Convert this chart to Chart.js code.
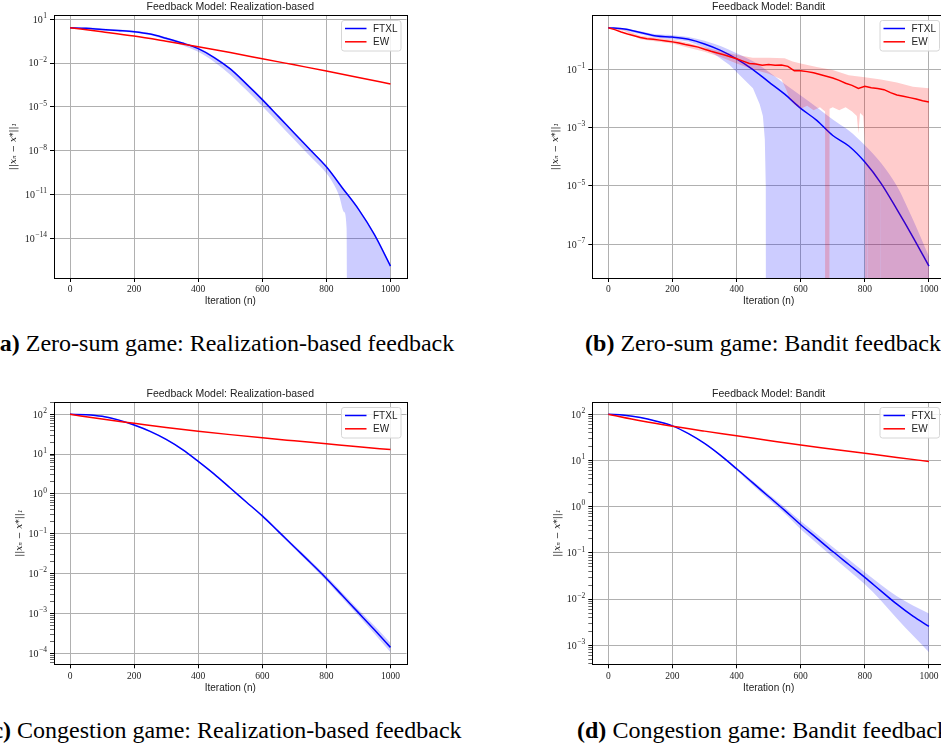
<!DOCTYPE html>
<html>
<head>
<meta charset="utf-8">
<script src="https://cdn.jsdelivr.net/npm/chart.js@4.4.0/dist/chart.umd.min.js"></script>
<style>
  html, body { margin: 0; padding: 0; overflow: hidden; background: #fff; }
  body { position: relative; width: 941px; height: 748px; }
  canvas { position: absolute; }
  .cap { position: absolute; width: 640px; text-align: center; white-space: nowrap;
         font-family: 'Liberation Serif', 'Times New Roman', serif; font-size: 24px; line-height: 24px; color: #000; }
</style>
</head>
<body>
<canvas id="chartA" width="470" height="320" style="left:0;top:0"></canvas>
<canvas id="chartB" width="480" height="320" style="left:470px;top:0"></canvas>
<canvas id="chartC" width="470" height="320" style="left:0;top:387px"></canvas>
<canvas id="chartD" width="480" height="320" style="left:470px;top:387px"></canvas>
<div class="cap" style="left:-97px;top:331px"><b>(a)</b> Zero-sum game: Realization-based feedback</div>
<div class="cap" style="left:443px;top:331px"><b>(b)</b> Zero-sum game: Bandit feedback</div>
<div class="cap" style="left:-97px;top:718px"><b>(c)</b> Congestion game: Realization-based feedback</div>
<div class="cap" style="left:443px;top:718px"><b>(d)</b> Congestion game: Bandit feedback</div>
<script>
'use strict';

// ---- data ----
const seriesNames = ['FTXL', 'EW'];
const xTickValues = [0, 200, 400, 600, 800, 1000];
const panelTitles = ['Feedback Model: Realization-based', 'Feedback Model: Bandit',
    'Feedback Model: Realization-based', 'Feedback Model: Bandit'];

const iters50 = [0, 50, 100, 150, 200, 250, 300, 350, 400, 450, 500, 550, 600, 650, 700, 750, 800, 850, 900, 950, 1000];
const iters100 = [0, 100, 200, 300, 400, 500, 600, 700, 800, 900, 1000];
const iters20 = [0, 20, 40, 60, 80, 100, 120, 140, 160, 180, 200, 220, 240, 260, 280, 300, 320, 340, 360, 380, 400,
    420, 440, 460, 480, 500, 520, 540, 560, 580, 600, 620, 640, 660, 680, 700, 720, 740, 760, 780, 800,
    820, 840, 860, 880, 900, 920, 940, 960, 980, 1000];

// (a) zero-sum, realization-based
const yTickExpA = [1, -2, -5, -8, -11, -14];
const ftxlA = [2.66, 2.40, 2.00, 1.70, 1.41, 0.977, 0.501, 0.240, 0.0977, 0.0240, 3.98e-3, 3.80e-4, 3.16e-5,
    2.24e-6, 1.58e-7, 1.12e-8, 7.94e-10, 2.82e-11, 1.0e-12, 1.78e-14, 1.26e-16];
const ftxlUpA = [2.66, 2.82, 2.34, 2.00, 1.66, 1.15, 0.589, 0.282, 0.115, 0.0282, 4.68e-3, 4.47e-4, 3.72e-5,
    2.63e-6, 1.86e-7, 1.32e-8, 9.33e-10, 3.31e-11, 1.17e-12, 2.09e-14, 1.58e-16];
const ftxlLoItersA = [0, 50, 100, 150, 200, 250, 300, 350, 400, 450, 500, 550, 600, 650, 700, 750, 800, 820, 840,
    855, 863, 866, 1000];
const ftxlLoA = [2.63, 2.04, 1.70, 1.45, 1.20, 0.832, 0.398, 0.170, 0.0589, 0.0120, 1.58e-3, 1.41e-4, 1.12e-5,
    7.94e-7, 5.62e-8, 3.98e-9, 2.82e-10, 6.31e-11, 7.94e-12, 6.31e-13, 5.01e-14, 1e-30, 1e-30];
const ewA = [2.67, 1.41, 0.718, 0.316, 0.133, 0.0525, 0.0200, 7.59e-3, 2.88e-3, 1.05e-3, 3.72e-4];

// (b) zero-sum, bandit
const yTickExpB = [-1, -3, -5, -7];
const ftxlB = [2.67, 2.40, 1.82, 1.38, 1.27, 1.07, 0.741, 0.447, 0.229, 0.100, 0.0372, 0.0141, 4.57e-3,
    1.78e-3, 5.37e-4, 2.34e-4, 6.61e-5, 1.26e-5, 1.58e-6, 1.78e-7, 1.78e-8];
const ftxlUpB = [2.69, 2.57, 2.00, 1.58, 1.48, 1.29, 0.955, 0.631, 0.355, 0.191, 0.0832, 0.0316, 0.0126,
    5.01e-3, 1.91e-3, 7.94e-4, 2.51e-4, 6.31e-5, 1.0e-5, 7.08e-7, 3.80e-8];
const ftxlLoItersB = [0, 50, 100, 150, 200, 250, 300, 340, 378, 410, 451, 472, 482, 488, 491, 493, 1000];
const ftxlLoB = [2.63, 2.19, 1.58, 1.20, 1.07, 0.891, 0.562, 0.282, 0.141, 0.0631, 0.0224, 6.31e-3, 2.51e-3,
    3.98e-4, 1e-5, 1e-30, 1e-30];
const ewB = [2.67, 2.29, 1.91, 1.62, 1.41, 1.23, 1.12, 1.07, 1.00, 0.933, 0.871, 0.794, 0.708, 0.646, 0.575,
    0.490, 0.417, 0.363, 0.316, 0.269, 0.229, 0.191, 0.158, 0.151, 0.138, 0.145, 0.138, 0.141, 0.126, 0.0891,
    0.0891, 0.0832, 0.0759, 0.0661, 0.0575, 0.0501, 0.0417, 0.0331, 0.0282, 0.0219, 0.0263, 0.0234, 0.0219,
    0.0200, 0.0158, 0.0132, 0.0120, 0.0107, 9.55e-3, 8.32e-3, 7.59e-3];
const ewUpItersB = [0, 50, 100, 150, 200, 250, 300, 350, 400, 450, 500, 550, 575, 600, 650, 700, 750, 800, 850, 900, 950, 1000];
const ewUpB = [2.69, 2.29, 1.41, 1.20, 1.05, 0.794, 0.575, 0.417, 0.316, 0.251, 0.251, 0.240, 0.186, 0.158,
    0.120, 0.0955, 0.0631, 0.0537, 0.0447, 0.0355, 0.0251, 0.0224];
const ewLoItersB = [0, 50, 100, 150, 200, 250, 300, 350, 400, 450, 500, 540, 555, 565, 580, 600, 620, 640, 660,
    676, 678, 688, 690, 700, 720, 740, 760, 775, 780, 785, 795, 800, 805, 808, 811, 848, 850, 852, 1000];
const ewLoB = [2.63, 2.04, 1.07, 0.891, 0.759, 0.550, 0.398, 0.263, 0.158, 0.100, 0.0708, 0.0447, 0.0200, 0.0100,
    6.31e-3, 4.47e-3, 5.62e-3, 3.98e-3, 5.01e-3, 3.55e-3, 1e-30, 1e-30, 4.47e-3, 5.01e-3, 3.98e-3, 5.01e-3,
    3.55e-3, 2.51e-3, 6.31e-4, 3.16e-3, 2.51e-3, 3.16e-4, 1e-30, 1e-3, 1e-30, 1e-30, 2.51e-4, 1e-30, 1e-30];

// (c) congestion, realization-based
const yTickExpC = [2, 1, 0, -1, -2, -3, -4];
const ftxlC = [100, 97.7, 89.1, 72.4, 53.7, 37.2, 23.4, 13.2, 6.61, 3.16, 1.41, 0.631, 0.282, 0.115, 0.0468,
    0.0191, 7.59e-3, 2.82e-3, 1.05e-3, 3.89e-4, 1.41e-4];
const ftxlUpC = [100, 100, 93.3, 75.9, 56.2, 38.9, 24.5, 13.8, 6.92, 3.31, 1.48, 0.661, 0.302, 0.126, 0.0513,
    0.0214, 8.71e-3, 3.31e-3, 1.26e-3, 4.90e-4, 1.82e-4];
const ftxlLoC = [100, 95.5, 85.1, 69.2, 51.3, 35.5, 22.4, 12.6, 6.31, 3.02, 1.35, 0.603, 0.263, 0.105, 0.0427,
    0.0170, 6.61e-3, 2.40e-3, 8.71e-4, 3.09e-4, 1.07e-4];
const ewC = [100, 75.9, 59.6, 46.8, 37.6, 30.9, 25.7, 21.6, 18.2, 15.3, 13.0];

// (d) congestion, bandit
const yTickExpD = [2, 1, 0, -1, -2, -3];
const ftxlD = [100, 95.5, 85.1, 70.8, 56.2, 38.0, 23.4, 12.9, 6.61, 3.31, 1.66, 0.832, 0.407, 0.209, 0.107,
    0.0562, 0.0295, 0.0151, 7.76e-3, 4.27e-3, 2.57e-3];
const ftxlUpD = [100, 97.7, 87.1, 72.4, 57.5, 38.9, 24.0, 13.5, 7.08, 3.63, 1.86, 0.977, 0.490, 0.257, 0.135,
    0.0724, 0.0380, 0.0204, 0.0115, 7.24e-3, 4.90e-3];
const ftxlLoD = [100, 93.3, 83.2, 69.2, 55.0, 37.2, 22.9, 12.3, 6.17, 2.95, 1.45, 0.708, 0.324, 0.162, 0.0813,
    0.0417, 0.0209, 9.33e-3, 3.80e-3, 1.62e-3, 7.08e-4];
const ewD = [100, 72.4, 55.0, 43.2, 34.4, 27.2, 21.6, 17.6, 14.3, 11.6, 9.55];

// ---- styling ----
const BLUE = '#0000ff';
const RED = '#ff0000';
const BLUE_BAND = 'rgba(0,0,255,0.2)';
const RED_BAND = 'rgba(255,0,0,0.2)';
const GRID = '#b0b0b0';
const TEXT = '#222';

function pts(xs, ys) {
    return xs.map((x, i) => ({ x: x, y: ys[i] }));
}

function lineSet(label, color, xs, ys, smooth) {
    return {
        label: label, data: pts(xs, ys), borderColor: color, borderWidth: 1.5,
        pointRadius: 0, fill: false, tension: 0,
        cubicInterpolationMode: smooth ? 'monotone' : 'default'
    };
}

function bandSet(xs, ys, shade, fillNext, smooth) {
    return {
        data: pts(xs, ys), borderColor: 'rgba(0,0,0,0)', borderWidth: 0, pointRadius: 0,
        backgroundColor: shade, fill: fillNext ? '+1' : false, tension: 0,
        cubicInterpolationMode: smooth ? 'monotone' : 'default'
    };
}

// spines on all four sides
const framePlugin = {
    id: 'frame',
    afterDatasetsDraw(chart) {
        const a = chart.chartArea;
        const ctx = chart.ctx;
        ctx.save();
        ctx.strokeStyle = '#000';
        ctx.lineWidth = 1;
        ctx.strokeRect(Math.round(a.left) + 0.5, Math.round(a.top) + 0.5,
            Math.round(a.right) - Math.round(a.left), Math.round(a.bottom) - Math.round(a.top));
        ctx.restore();
    }
};

// 10^k labels with a raised exponent, placed at the log scale's major ticks
const powLabels = {
    id: 'powLabels',
    afterDraw(chart) {
        const s = chart.scales.y;
        const ctx = chart.ctx;
        ctx.save();
        ctx.fillStyle = TEXT;
        ctx.textBaseline = 'alphabetic';
        s.ticks.forEach(t => {
            if (!t.major) return;
            const y = s.getPixelForValue(t.value);
            const exp = String(t.exp).replace('-', '\u2212');
            ctx.font = '10px "Liberation Serif", serif';
            const w1 = ctx.measureText('10').width;
            ctx.font = '7.5px "Liberation Serif", serif';
            const w2 = ctx.measureText(exp).width;
            const x0 = s.right - 4 - 3.5 - w1 - w2;
            ctx.font = '10px "Liberation Serif", serif';
            ctx.fillText('10', x0, y + 3.3);
            ctx.font = '7.5px "Liberation Serif", serif';
            ctx.fillText(exp, x0 + w1 + 0.4, y - 1.2);
        });
        ctx.restore();
    }
};

// matplotlib-like legend box in upper right
const boxLegend = {
    id: 'boxLegend',
    afterDraw(chart, args, opts) {
        const a = chart.chartArea;
        const ctx = chart.ctx;
        const w = 59.5, h = 30.5;
        const x = a.right - 5.5 - w, y = a.top + 5.5;
        ctx.save();
        ctx.beginPath();
        ctx.roundRect(x, y, w, h, 2.5);
        ctx.fillStyle = 'rgba(255,255,255,0.85)';
        ctx.fill();
        ctx.strokeStyle = '#d6d6d6';
        ctx.lineWidth = 1;
        ctx.stroke();
        ctx.font = '10px "Liberation Sans", Arial, sans-serif';
        ctx.textBaseline = 'middle';
        opts.items.forEach((it, i) => {
            const ly = y + 8 + i * 13.3;
            ctx.beginPath();
            ctx.moveTo(x + 3.5, ly);
            ctx.lineTo(x + 25, ly);
            ctx.strokeStyle = it.color;
            ctx.lineWidth = 1.5;
            ctx.stroke();
            ctx.fillStyle = TEXT;
            ctx.fillText(it.text, x + 31.5, ly + 0.5);
        });
        ctx.restore();
    }
};

function makeChart(id, p) {
    const majors = p.yExp.map(e => ({ value: Math.pow(10, e), major: true, exp: e }));
    let yTicks = majors.slice();
    if (p.minor) {
        const lo = Math.floor(Math.log10(p.yMin)), hi = Math.ceil(Math.log10(p.yMax));
        for (let e = lo; e <= hi; e++) {
            for (let m = 2; m <= 9; m++) {
                const v = m * Math.pow(10, e);
                if (v >= p.yMin && v <= p.yMax) yTicks.push({ value: v, major: false });
            }
        }
        yTicks.sort((s, t) => s.value - t.value);
    }

    new Chart(document.getElementById(id), {
        type: 'line',
        data: { datasets: p.datasets },
        plugins: [framePlugin, powLabels, boxLegend],
        options: {
            responsive: false,
            animation: false,
            events: [],
            layout: { padding: { left: 0, right: p.padRight, top: 0, bottom: 0 } },
            plugins: {
                legend: { display: false },
                tooltip: { enabled: false },
                title: {
                    display: true, text: p.title, fullSize: false, color: TEXT,
                    font: { family: 'Liberation Sans', size: 10.5, weight: 'normal' },
                    padding: { top: 0.5, bottom: 1.9 }
                },
                boxLegend: { items: [{ text: seriesNames[0], color: BLUE }, { text: seriesNames[1], color: RED }] }
            },
            scales: {
                x: {
                    type: 'linear', min: -50, max: 1050,
                    afterBuildTicks: s => { s.ticks = xTickValues.map(v => ({ value: v, major: true })); },
                    afterFit: s => { s.height = p.xHeight; },
                    border: { display: false },
                    grid: { color: GRID, lineWidth: 1, drawTicks: true, tickLength: 4, tickColor: '#000', tickWidth: 1 },
                    ticks: {
                        color: TEXT, padding: 2, autoSkip: false, maxRotation: 0,
                        font: { family: 'Liberation Serif', size: 9.5 },
                        callback: v => String(v)
                    },
                    title: {
                        display: true, text: 'Iteration (n)', color: TEXT,
                        font: { family: 'Liberation Sans', size: 10 },
                        padding: { top: 0, bottom: 12.3 }
                    }
                },
                y: {
                    type: 'logarithmic', min: p.yMin, max: p.yMax,
                    afterBuildTicks: s => { s.ticks = yTicks.map(t => Object.assign({}, t)); },
                    afterFit: s => { s.width = p.yWidth; },
                    border: { display: false },
                    grid: {
                        color: c => (c.tick && c.tick.major) ? GRID : 'rgba(0,0,0,0)',
                        lineWidth: 1, drawTicks: true, tickLength: 4, tickColor: '#000',
                        tickWidth: c => (c.tick && c.tick.major) ? 1 : 0.6
                    },
                    ticks: { autoSkip: false, callback: () => '' },
                    title: {
                        display: true, text: '||x\u2099 \u2212 x*||\u2081', color: TEXT,
                        font: { family: 'DejaVu Serif', size: 9, style: 'italic' },
                        padding: { top: p.yTitlePad, bottom: 0 }
                    }
                }
            }
        }
    });
}

makeChart('chartA', {
    title: panelTitles[0], yExp: yTickExpA, minor: false, yMin: 1.91e-17, yMax: 19.7,
    yWidth: 54, yTitlePad: 8.5, padRight: 63.5, xHeight: 42,
    datasets: [
        lineSet(seriesNames[1], RED, iters100, ewA, true),
        lineSet(seriesNames[0], BLUE, iters50, ftxlA, true),
        bandSet(iters50, ftxlUpA, BLUE_BAND, true, true),
        bandSet(ftxlLoItersA, ftxlLoA, BLUE_BAND, false, true)
    ]
});

makeChart('chartB', {
    title: panelTitles[1], yExp: yTickExpB, minor: false, yMin: 7.0e-9, yMax: 7.27,
    yWidth: 122.3, yTitlePad: 80.5, padRight: 5, xHeight: 42,
    datasets: [
        lineSet(seriesNames[1], RED, iters20, ewB, false),
        bandSet(ewUpItersB, ewUpB, RED_BAND, true, false),
        bandSet(ewLoItersB, ewLoB, RED_BAND, false, false),
        lineSet(seriesNames[0], BLUE, iters50, ftxlB, true),
        bandSet(iters50, ftxlUpB, BLUE_BAND, true, true),
        bandSet(ftxlLoItersB, ftxlLoB, BLUE_BAND, false, false)
    ]
});

makeChart('chartC', {
    title: panelTitles[2], yExp: yTickExpC, minor: true, yMin: 5.30e-5, yMax: 203.7,
    yWidth: 54, yTitlePad: 14.5, padRight: 63.5, xHeight: 42.7,
    datasets: [
        lineSet(seriesNames[1], RED, iters100, ewC, true),
        lineSet(seriesNames[0], BLUE, iters50, ftxlC, true),
        bandSet(iters50, ftxlUpC, BLUE_BAND, true, true),
        bandSet(iters50, ftxlLoC, BLUE_BAND, false, true)
    ]
});

makeChart('chartD', {
    title: panelTitles[3], yExp: yTickExpD, minor: true, yMin: 3.88e-4, yMax: 184.5,
    yWidth: 122.3, yTitlePad: 81.8, padRight: 5, xHeight: 42.7,
    datasets: [
        lineSet(seriesNames[1], RED, iters100, ewD, true),
        lineSet(seriesNames[0], BLUE, iters50, ftxlD, true),
        bandSet(iters50, ftxlUpD, BLUE_BAND, true, true),
        bandSet(iters50, ftxlLoD, BLUE_BAND, false, true)
    ]
});
</script>
</body>
</html>
